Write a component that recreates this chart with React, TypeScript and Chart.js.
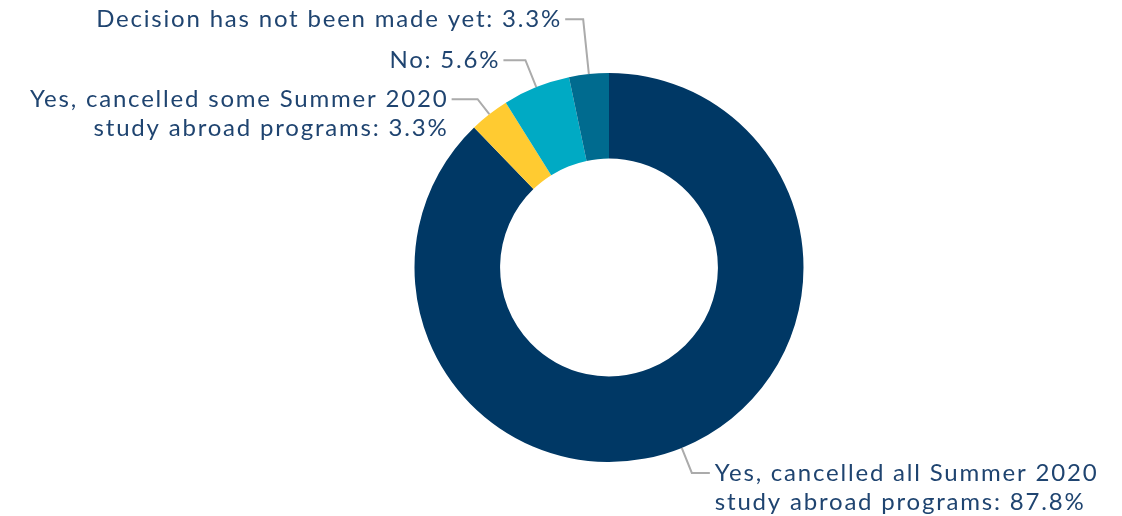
import React, { useEffect, useRef } from "react";
import { Chart, registerables } from "chart.js";

Chart.register(...registerables);

const categories = [
  "Yes, cancelled all Summer 2020 study abroad programs",
  "Yes, cancelled some Summer 2020 study abroad programs",
  "No",
  "Decision has not been made yet",
];
const values = [87.8, 3.3, 5.6, 3.3];
const colors = ["#003865", "#FFCB31", "#00AAC4", "#006B8F"];
const labelLines = [
  ["Yes, cancelled all Summer 2020", "study abroad programs: 87.8%"],
  ["Yes, cancelled some Summer 2020", "study abroad programs: 3.3%"],
  ["No: 5.6%"],
  ["Decision has not been made yet: 3.3%"],
];
// leader extension beyond the outer radius, and horizontal run
const leaderExt = [27, 19, 29, 55];
const leaderRun = [18, 26, 22, 18];

const FONT = "24px Lato, 'Open Sans', sans-serif";
const LETTER_SPACING = 1.8;
const TEXT_COLOR = "#1f4470";
const LINE_COLOR = "#ababab";
const LINE_HEIGHT = 29;

const labelPlugin = {
  id: "leaderLabels",
  afterDatasetsDraw(chart: any) {
    const ctx = chart.ctx;
    const meta = chart.getDatasetMeta(0);
    ctx.save();
    ctx.font = FONT;
    (ctx as any).letterSpacing = LETTER_SPACING + "px";
    meta.data.forEach((arc: any, i: number) => {
      const { x, y, startAngle, endAngle, outerRadius } = arc.getProps(
        ["x", "y", "startAngle", "endAngle", "outerRadius"],
        true
      );
      const mid = (startAngle + endAngle) / 2;
      const cx = Math.cos(mid);
      const cy = Math.sin(mid);
      const p0x = x + cx * outerRadius;
      const p0y = y + cy * outerRadius;
      const r1 = outerRadius + leaderExt[i];
      const p1x = x + cx * r1;
      const p1y = y + cy * r1;
      const right = cx >= 0;
      const p2x = p1x + (right ? leaderRun[i] : -leaderRun[i]);
      ctx.strokeStyle = LINE_COLOR;
      ctx.lineWidth = 2;
      ctx.beginPath();
      ctx.moveTo(p0x, p0y);
      ctx.lineTo(p1x, p1y);
      ctx.lineTo(p2x, p1y);
      ctx.stroke();
      ctx.fillStyle = TEXT_COLOR;
      ctx.textBaseline = "middle";
      ctx.textAlign = right ? "left" : "right";
      const tx = p2x + (right ? 5 : -5 + LETTER_SPACING);
      labelLines[i].forEach((line, j) => {
        ctx.fillText(line, tx, p1y + j * LINE_HEIGHT);
      });
    });
    ctx.restore();
  },
};

export default function App() {
  const ref = useRef<HTMLCanvasElement | null>(null);
  useEffect(() => {
    document.body.style.margin = "0";
    const chart = new Chart(ref.current!, {
      type: "doughnut",
      data: {
        labels: categories,
        datasets: [
          {
            data: values,
            backgroundColor: colors,
            borderWidth: 0,
          },
        ],
      },
      options: {
        responsive: false,
        animation: false,
        cutout: "56%",
        layout: { padding: { top: 73, bottom: 54, left: 414.5, right: 318.5 } },
        plugins: {
          legend: { display: false },
          tooltip: { enabled: false },
        },
      },
      plugins: [labelPlugin],
    });
    return () => chart.destroy();
  }, []);
  return (
    <div style={{ width: 1122, height: 516, background: "#fff" }}>
      <canvas ref={ref} width={1122} height={516} style={{ display: "block" }} />
    </div>
  );
}
